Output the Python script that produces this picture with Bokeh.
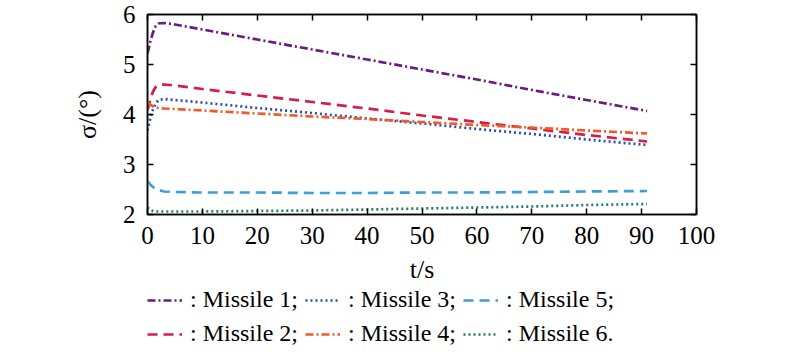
import math
from bokeh.plotting import figure
from bokeh.layouts import column
from bokeh.models import (Legend, LegendItem, LinearAxis, SingleIntervalTicker,
                          Range1d, CustomJSTickFormatter)
from bokeh.embed import file_html
from bokeh.resources import INLINE

# ---- data ----
t = [0, 0.5, 1, 1.5, 2, 3, 5, 10, 20, 30, 40, 50, 60, 70, 80, 91]
missile1 = [5.22, 5.45, 5.64, 5.77, 5.82, 5.83, 5.80, 5.70, 5.50, 5.30, 5.10, 4.90, 4.70, 4.49, 4.29, 4.07]
missile2 = [4.08, 4.30, 4.46, 4.55, 4.59, 4.60, 4.58, 4.51, 4.38, 4.25, 4.12, 3.98, 3.85, 3.72, 3.59, 3.46]
missile3 = [3.68, 3.92, 4.10, 4.22, 4.29, 4.31, 4.29, 4.24, 4.13, 4.03, 3.92, 3.82, 3.71, 3.61, 3.50, 3.39]
missile4 = [4.25, 4.20, 4.16, 4.14, 4.13, 4.12, 4.11, 4.08, 4.02, 3.96, 3.91, 3.85, 3.79, 3.74, 3.68, 3.62]
missile5 = [2.67, 2.60, 2.55, 2.51, 2.49, 2.46, 2.45, 2.44, 2.44, 2.43, 2.43, 2.44, 2.44, 2.45, 2.46, 2.47]
missile6 = [2.14, 2.09, 2.07, 2.06, 2.06, 2.06, 2.06, 2.06, 2.07, 2.08, 2.10, 2.12, 2.14, 2.16, 2.19, 2.21]
series = [missile1, missile2, missile3, missile4, missile5, missile6]
labels = [": Missile 1;", ": Missile 2;", ": Missile 3;", ": Missile 4;", ": Missile 5;", ": Missile 6."]
legend_order = [0, 2, 4, 1, 3, 5]   # row 1: missiles 1, 3, 5; row 2: missiles 2, 4, 6
x_title = "t/s"
y_title = "σ/(°)"
x_tick_step = 10
y_tick_step = 1

# ---- styles ----
colors = ["#6A1B7E", "#D41E47", "#2A4DAE", "#F05A28", "#3E9ED8", "#1E7D73"]
dashes = ["8 3 2 3", "10 6", "2 3", "8 3 2 3", "10 6", "2 3"]
FONT = "Times New Roman, Liberation Serif, serif"

p = figure(frame_width=549, frame_height=200, x_range=Range1d(0, 100), y_range=Range1d(2, 6),
           output_backend="svg", toolbar_location=None,
           min_border_left=147, min_border_right=104, min_border_top=14,
           min_border_bottom=0)
p.grid.visible = False
p.outline_line_color = "black"
p.outline_line_width = 1.5
p.background_fill_color = "white"
p.border_fill_color = "white"

p.xaxis.ticker = SingleIntervalTicker(interval=x_tick_step)
p.yaxis.ticker = SingleIntervalTicker(interval=y_tick_step)

def style_axis(ax, show_labels=True):
    ax.axis_line_color = "black"
    ax.axis_line_width = 1.5
    ax.major_tick_in = 6
    ax.major_tick_out = 0
    ax.major_tick_line_width = 1.5
    ax.minor_tick_line_color = None
    ax.major_label_text_font = FONT
    ax.major_label_text_font_size = "25px"
    ax.major_label_text_color = "black"
    ax.major_label_standoff = 8
    ax.axis_label_text_font = FONT
    ax.axis_label_text_font_size = "26px"
    ax.axis_label_text_font_style = "normal"
    ax.axis_label_text_color = "black"
    if not show_labels:
        ax.formatter = CustomJSTickFormatter(code="return ''")
        ax.major_label_text_font_size = "1px"

for ax in p.xaxis + p.yaxis:
    style_axis(ax)
p.xaxis.axis_label = x_title
p.yaxis.axis_label = y_title
p.xaxis.axis_label_standoff = 8
p.yaxis.axis_label_standoff = 18

top = LinearAxis(ticker=SingleIntervalTicker(interval=x_tick_step))
right = LinearAxis(ticker=SingleIntervalTicker(interval=y_tick_step))
style_axis(top, False)
style_axis(right, False)
p.add_layout(top, "above")
p.add_layout(right, "right")

for s, c, d in zip(series, colors, dashes):
    p.line(t, s, line_color=c, line_width=2.7, line_dash=d)

# ---- legend strip under the chart: same series, ranges chosen so only the legend shows ----
lg = figure(width=800, height=70, x_range=Range1d(0, 100), y_range=Range1d(100, 101),
            output_backend="svg", toolbar_location=None,
            min_border_left=147, min_border_right=0, min_border_top=0,
            min_border_bottom=0)
lg.axis.visible = False
lg.grid.visible = False
lg.outline_line_color = None
lg.background_fill_color = "white"
lg.border_fill_color = "white"
samples = [lg.line(t, s, line_color=c, line_width=2.7, line_dash=d)
           for s, c, d in zip(series, colors, dashes)]
items = [LegendItem(label=labels[i], renderers=[samples[i]]) for i in legend_order]
legend = Legend(items=items, orientation="horizontal", ncols=3,
                location="top_left", glyph_width=35, glyph_height=22,
                label_standoff=8, spacing=7, padding=0, margin=0,
                label_text_font=FONT, label_text_font_size="24px",
                label_text_color="black", border_line_color=None,
                background_fill_alpha=0)
lg.add_layout(legend, "center")

open("out.html", "w").write(file_html(column(p, lg, spacing=0), INLINE))
